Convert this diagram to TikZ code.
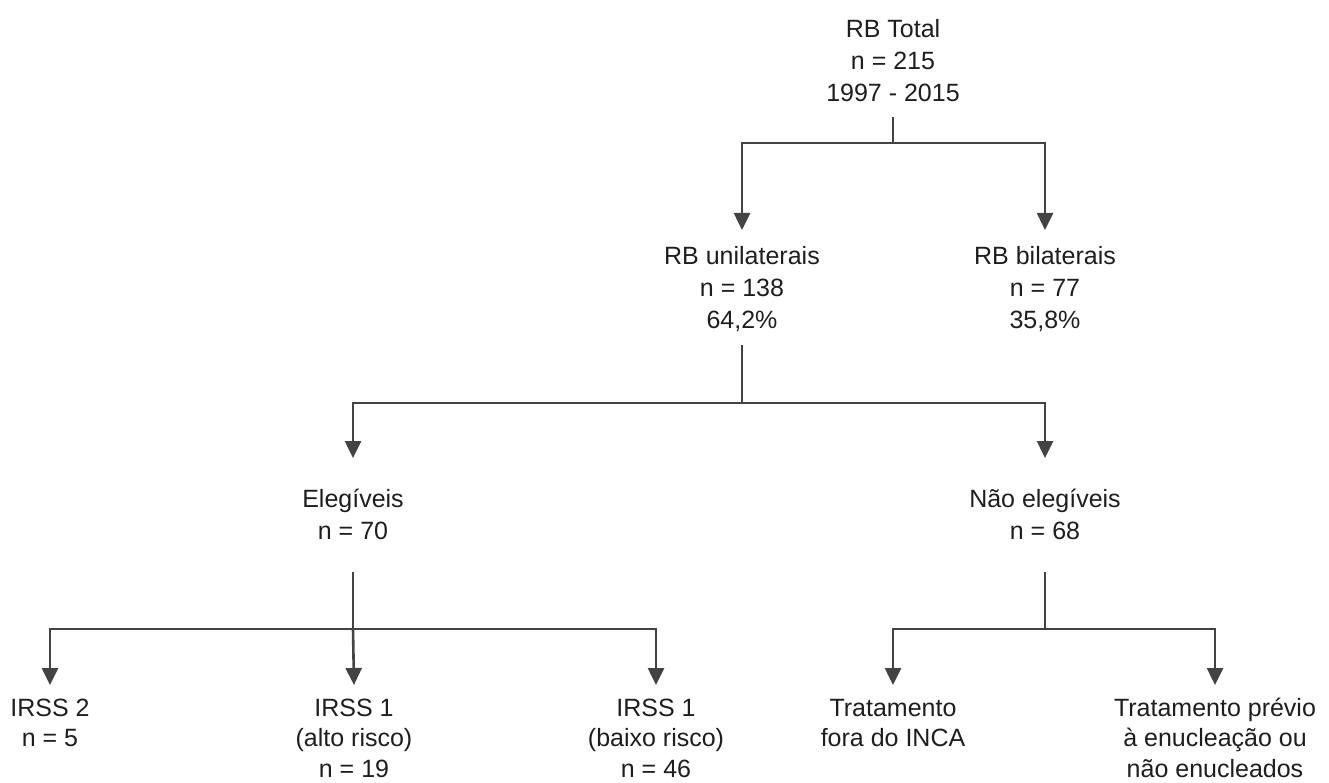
\documentclass[tikz,border=0pt]{standalone}
\usepackage{fontspec}
\setmainfont{Liberation Sans}
\usetikzlibrary{arrows.meta}
\newcommand\toprule{\rule{0pt}{20pt}}
\newcommand\botrule{\rule[-7pt]{0pt}{7pt}}
\definecolor{linegray}{HTML}{434343}
\definecolor{textblack}{HTML}{1E1E1E}
\begin{document}
\begin{tikzpicture}[x=1pt,y=-1pt,
  lbl/.style={anchor=north,inner sep=0pt,outer sep=0pt,align=center,
    text=textblack,font=\fontsize{25}{32}\selectfont},
  lblb/.style={lbl,font=\fontsize{25}{30.5}\selectfont},
  ln/.style={draw=linegray,line width=2.6pt},
  arr/.style={ln,-{Triangle[length=17pt,width=16pt]}}]
\useasboundingbox (0,0) rectangle (1329,783);
% nodes
\node[lbl] (total) at (893,18) {\toprule RB Total\\n = 215\\1997 - 2015\botrule};
\node[lbl] (uni) at (742,244.5) {\toprule RB unilaterais\\n = 138\\64,2\%\botrule};
\node[lbl] (bil) at (1045,244.5) {\toprule RB bilaterais\\n = 77\\35,8\%\botrule};
\node[lbl] (eleg) at (353,487) {\toprule Elegíveis\\n = 70\botrule};
\node[lbl] (nao) at (1045,487) {\toprule Não elegíveis\\n = 68\botrule};
\node[lblb] (irss2) at (50,696) {\toprule IRSS 2\\n = 5\botrule};
\node[lblb] (alto) at (354,696) {\toprule IRSS 1\\(alto risco)\\n = 19\botrule};
\node[lblb] (baixo) at (656,696) {\toprule IRSS 1\\(baixo risco)\\n = 46\botrule};
\node[lblb] (fora) at (893,696) {\toprule Tratamento\\fora do INCA\botrule};
\node[lblb] (previo) at (1215,696) {\toprule Tratamento prévio\\à enucleação ou\\não enucleados\botrule};
% junctions
\coordinate (j1) at (893,143);
\coordinate (j2) at (742,403);
\coordinate (j3) at (353,629);
\coordinate (j4) at (1045,629);
% connectors
\draw[ln] ([yshift=-8pt]total.south) -- (j1);
\draw[arr] (j1) -| ([yshift=14.5pt]uni.north);
\draw[arr] (j1) -| ([yshift=14.5pt]bil.north);
\draw[ln] ([yshift=-9.5pt]uni.south) -- (j2);
\draw[arr] (j2) -| ([yshift=29pt]eleg.north);
\draw[arr] (j2) -| ([yshift=29pt]nao.north);
\draw[ln] ([yshift=-26pt]eleg.south) -- (j3);
\draw[arr] (j3) -| ([yshift=11pt]irss2.north);
\draw[arr] (j3) -- ([yshift=11pt]alto.north);
\draw[arr] (j3) -| ([yshift=11pt]baixo.north);
\draw[ln] ([yshift=-26pt]nao.south) -- (j4);
\draw[arr] (j4) -| ([yshift=11pt]fora.north);
\draw[arr] (j4) -| ([yshift=11pt]previo.north);
\end{tikzpicture}
\end{document}
